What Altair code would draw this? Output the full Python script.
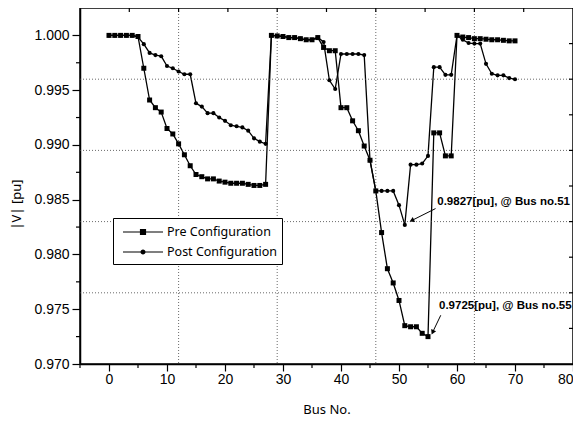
import altair as alt
import pandas as pd

# ---------------- data ----------------
bus = list(range(0, 71))
pre = [1.0000, 1.0000, 1.0000, 1.0000, 1.0000, 0.9999, 0.9970, 0.9941, 0.9934, 0.9930,
       0.9915, 0.9910, 0.9901, 0.9891, 0.9881, 0.9873, 0.9871, 0.9869, 0.9869, 0.9867,
       0.9866, 0.9865, 0.9865, 0.9865, 0.9864, 0.9863, 0.9863, 0.9864, 1.0000, 0.99995,
       0.9999, 0.9998, 0.9998, 0.9997, 0.9996, 0.9996, 0.9998, 0.9989, 0.9986, 0.9986,
       0.9934, 0.9934, 0.9922, 0.9913, 0.9899, 0.9886, 0.9858, 0.9820, 0.9787, 0.9774,
       0.9758, 0.9735, 0.9734, 0.9734, 0.9728, 0.9725, 0.9911, 0.9911, 0.9890, 0.9890,
       1.0000, 0.99985, 0.9998, 0.9997, 0.9997, 0.99965, 0.9996, 0.9996, 0.99955, 0.9995,
       0.9995]
post = [1.0000, 1.0000, 1.0000, 1.0000, 1.0000, 0.99985, 0.9992, 0.9984, 0.9982, 0.9981,
        0.9972, 0.9970, 0.9967, 0.99645, 0.99645, 0.9938, 0.9935, 0.9929, 0.9929, 0.9925,
        0.9922, 0.9918, 0.9917, 0.9916, 0.9913, 0.9906, 0.9903, 0.9901, 1.0000, 0.99995,
        0.9999, 0.9998, 0.9998, 0.9997, 0.9996, 0.9996, 0.9998, 0.9994, 0.9959, 0.9951,
        0.9983, 0.9983, 0.9983, 0.9983, 0.9982, 0.9886, 0.9858, 0.9858, 0.9858, 0.9858,
        0.9845, 0.9827, 0.9882, 0.9882, 0.9883, 0.9890, 0.9971, 0.9971, 0.9964, 0.9964,
        1.0000, 0.9996, 0.9993, 0.99925, 0.99925, 0.9974, 0.9965, 0.99635, 0.99635, 0.9961,
        0.9960]
series_names = ["Pre Configuration", "Post Configuration"]

x_domain = [-5, 80]
y_domain = [0.970, 1.0025]
x_ticks = [0, 10, 20, 30, 40, 50, 60, 70, 80]
x_minor = [-5, 5, 15, 25, 35, 45, 55, 65, 75]
y_ticks = [0.970, 0.975, 0.980, 0.985, 0.990, 0.995, 1.000]
y_minor = [0.9725, 0.9775, 0.9825, 0.9875, 0.9925, 0.9975]
x_grid = [12, 29, 46, 63]
y_grid = [0.9765, 0.9830, 0.9895, 0.9960]
top_ticks = [3.5, 12, 20.5, 29, 37.5, 46, 54.5, 63, 71.5]
right_ticks = [0.97325, 0.9765, 0.97975, 0.9830, 0.98625, 0.9895, 0.99275, 0.9960, 0.99925]

annot_text = ["0.9827[pu], @ Bus no.51", "0.9725[pu], @ Bus no.55"]
annot_x = [56.6, 56.9]
annot_y = [0.98480, 0.97530]
arrow_x1 = [56.3, 57.2]
arrow_y1 = [0.98419, 0.97445]
arrow_x2 = [52.2, 55.8]
arrow_y2 = [0.98310, 0.97290]
arrow_angle = [155, 115]

# ---------------- tables ----------------
df = pd.DataFrame({
    "x": bus * 2,
    "y": pre + post,
    "series": [series_names[0]] * len(bus) + [series_names[1]] * len(bus),
})
W, H = 493, 356

xs = alt.Scale(domain=x_domain, nice=False, zero=False)
ys = alt.Scale(domain=y_domain, nice=False, zero=False)

x_axis = alt.Axis(values=x_ticks, title="Bus No.", grid=False, tickSize=7, labelPadding=1,
                  labelFlush=True,
                  labelFont="Liberation Sans", labelFontSize=14, labelColor="black",
                  tickColor="black", domainColor="black", domainWidth=1.5, tickWidth=1.2,
                  titleFont="Noto Sans", titleFontSize=13, titleFontWeight="normal",
                  titleColor="black", titleY=45, titleBaseline="middle")
y_axis = alt.Axis(values=y_ticks, format=".3f", title="|V| [pu]", grid=False, tickSize=8,
                  labelPadding=3, labelFont="Liberation Sans", labelFontSize=14,
                  labelColor="black", tickColor="black", domainColor="black",
                  domainWidth=1.5, tickWidth=1.2, titleFont="Noto Sans", titleFontSize=13,
                  titleFontWeight="normal", titleColor="black", titleX=-64, titleY=196,
                  titleAlign="center", titleBaseline="middle", titleAngle=270)

base = alt.Chart(df)
X = alt.X("x:Q", scale=xs)
Y = alt.Y("y:Q", scale=ys)

lines = base.mark_line(color="black", strokeWidth=1.3).encode(
    x=alt.X("x:Q", scale=xs, axis=x_axis),
    y=alt.Y("y:Q", scale=ys, axis=y_axis),
    detail="series:N",
)
pre_pts = base.transform_filter(alt.datum.series == series_names[0]).mark_point(
    shape="square", filled=True, size=25, color="black", opacity=1).encode(x=X, y=Y)
post_pts = base.transform_filter(alt.datum.series == series_names[1]).mark_point(
    shape="circle", filled=True, size=17, color="black", opacity=1).encode(x=X, y=Y)

# legend glyphs: a line segment with the marker drawn as nested outlines
sq_path = ("M-2.5,0H2.5M-0.31,-0.31H0.31V0.31H-0.31Z"
           "M-0.17,-0.17H0.17V0.17H-0.17Z M-0.05,-0.05H0.05V0.05H-0.05Z")
ci_path = ("M-2.5,0H2.5M0.24,0A0.24,0.24 0 1,1 -0.24,0A0.24,0.24 0 1,1 0.24,0Z"
           "M0.1,0A0.1,0.1 0 1,1 -0.1,0A0.1,0.1 0 1,1 0.1,0Z")
legend_layer = base.mark_point(opacity=0, filled=False, color="black", strokeWidth=1.2).encode(
    x=X, y=Y,
    shape=alt.Shape("series:N", scale=alt.Scale(domain=series_names, range=[sq_path, ci_path]),
                    legend=alt.Legend(orient="none", legendX=33, legendY=210, title=None,
                                      padding=5, strokeColor="black", fillColor="white",
                                      symbolSize=256, symbolOffset=16, labelOffset=15,
                                      symbolStrokeWidth=1.2, symbolStrokeColor="black",
                                      symbolOpacity=1,
                                      labelFont="Noto Sans", labelFontSize=12.5,
                                      labelColor="black", rowPadding=4)),
)

vgrid = alt.Chart(pd.DataFrame({"x": x_grid})).mark_rule(
    color="#444", strokeWidth=0.8, strokeDash=[1, 2]).encode(x=X)
hgrid = alt.Chart(pd.DataFrame({"y": y_grid})).mark_rule(
    color="#444", strokeWidth=0.8, strokeDash=[1, 2]).encode(y=Y)

xminor = alt.Chart(pd.DataFrame({"x": x_minor})).mark_rule(color="black", strokeWidth=1.2).encode(
    x=X, y=alt.value(H), y2=alt.value(H + 4))
yminor = alt.Chart(pd.DataFrame({"y": y_minor})).mark_rule(color="black", strokeWidth=1.2).encode(
    y=Y, x=alt.value(0), x2=alt.value(-4))
topt = alt.Chart(pd.DataFrame({"x": top_ticks})).mark_rule(color="black", strokeWidth=1.2).encode(
    x=X, y=alt.value(0), y2=alt.value(4))
rightt = alt.Chart(pd.DataFrame({"y": right_ticks})).mark_rule(color="black", strokeWidth=1.2).encode(
    y=Y, x=alt.value(W), x2=alt.value(W - 4))

adf = pd.DataFrame({"x": annot_x, "y": annot_y, "t": annot_text,
                    "x1": arrow_x1, "y1": arrow_y1, "x2": arrow_x2, "y2": arrow_y2,
                    "a": arrow_angle})
atext = alt.Chart(adf).mark_text(align="left", baseline="middle", font="Liberation Sans",
                                 fontSize=11.5, fontWeight="bold", color="black").encode(
    x=X, y=Y, text="t:N")
arule = alt.Chart(adf).mark_rule(color="black", strokeWidth=1).encode(
    x=alt.X("x1:Q", scale=xs), y=alt.Y("y1:Q", scale=ys), x2="x2:Q", y2="y2:Q")
ahead = alt.Chart(adf).mark_point(shape="triangle-right", filled=True, size=30,
                                  color="black", opacity=1).encode(
    x=alt.X("x2:Q", scale=xs), y=alt.Y("y2:Q", scale=ys),
    angle=alt.Angle("a:Q", scale=None))

chart = alt.layer(
    lines, vgrid, hgrid, pre_pts, post_pts, legend_layer,
    xminor, yminor, topt, rightt, arule, ahead, atext,
).properties(
    width=W, height=H,
    autosize=alt.AutoSizeParams(type="none"),
    padding={"left": 72, "top": 0, "right": 0, "bottom": 56},
    background="white",
).configure_view(stroke="black", strokeWidth=1.5)

chart.save("out.html", embed_options={"renderer": "svg", "actions": False})
